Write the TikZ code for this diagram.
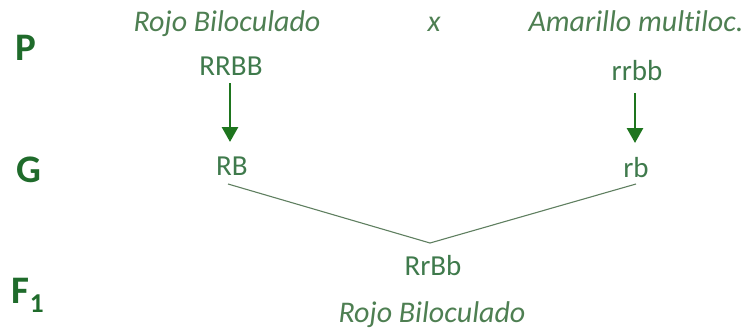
\documentclass[tikz,border=0pt]{standalone}
\usepackage{fontspec}
\setmainfont[Ligatures=NoCommon]{Carlito}
\usetikzlibrary{arrows.meta}
\definecolor{lblgreen}{HTML}{1F6B2B}
\definecolor{txtgreen}{HTML}{3F7A4C}
\definecolor{itgreen}{HTML}{4E7F52}
\definecolor{arrgreen}{HTML}{1E751E}
\definecolor{lngreen}{HTML}{5F7F60}
\tikzset{
  gen/.style={anchor=base, inner sep=0pt, text=txtgreen, font=\fontsize{29}{33}\selectfont},
  itl/.style={anchor=base, inner sep=0pt, text=itgreen, font=\fontsize{30}{34}\selectfont\itshape},
  lbl/.style={anchor=base, inner sep=0pt, text=lblgreen, font=\fontsize{39}{45}\selectfont\bfseries},
  arr/.style={draw=arrgreen, line width=2.8pt, -{Triangle[width=16pt,length=15pt]}},
  cross/.style={draw=lngreen, line width=1.1pt}
}
\begin{document}
\begin{tikzpicture}[x=1pt,y=-1pt]
\useasboundingbox (0,0) rectangle (752,330);
\node[itl] (p1) at (227,31) {Rojo Biloculado};
\node[itl] (x) at (434,31) {x};
\node[itl] (p2) at (636,31) {Amarillo multiloc.};
\node[lbl] (P) at (26,60) {P};
\node[lbl] (G) at (29,182) {G};
\node[lbl] (F) at (28,303) {F$_{\mathbf 1}$};
\node[gen] (RRBB) at (231,75) {RRBB};
\node[gen] (rrbb) at (637,80) {rrbb};
\node[gen] (RB) at (232,175) {RB};
\node[gen] (rb) at (636,177) {rb};
\node[gen] (RrBb) at (433,275) {RrBb};
\node[itl] (f1) at (432,322) {Rojo Biloculado};
\coordinate (v) at (430,243);
\draw[arr] ([xshift=-1pt,yshift=-8pt]RRBB.base) -- ([xshift=-2pt,yshift=33pt]RB.base);
\draw[arr] ([xshift=-2pt,yshift=-13pt]rrbb.base) -- ([xshift=-1pt,yshift=34pt]rb.base);
\draw[cross] ([xshift=-4pt,yshift=-9pt]RB.base) -- (v) -- ([yshift=-7pt]rb.base);
\end{tikzpicture}
\end{document}
